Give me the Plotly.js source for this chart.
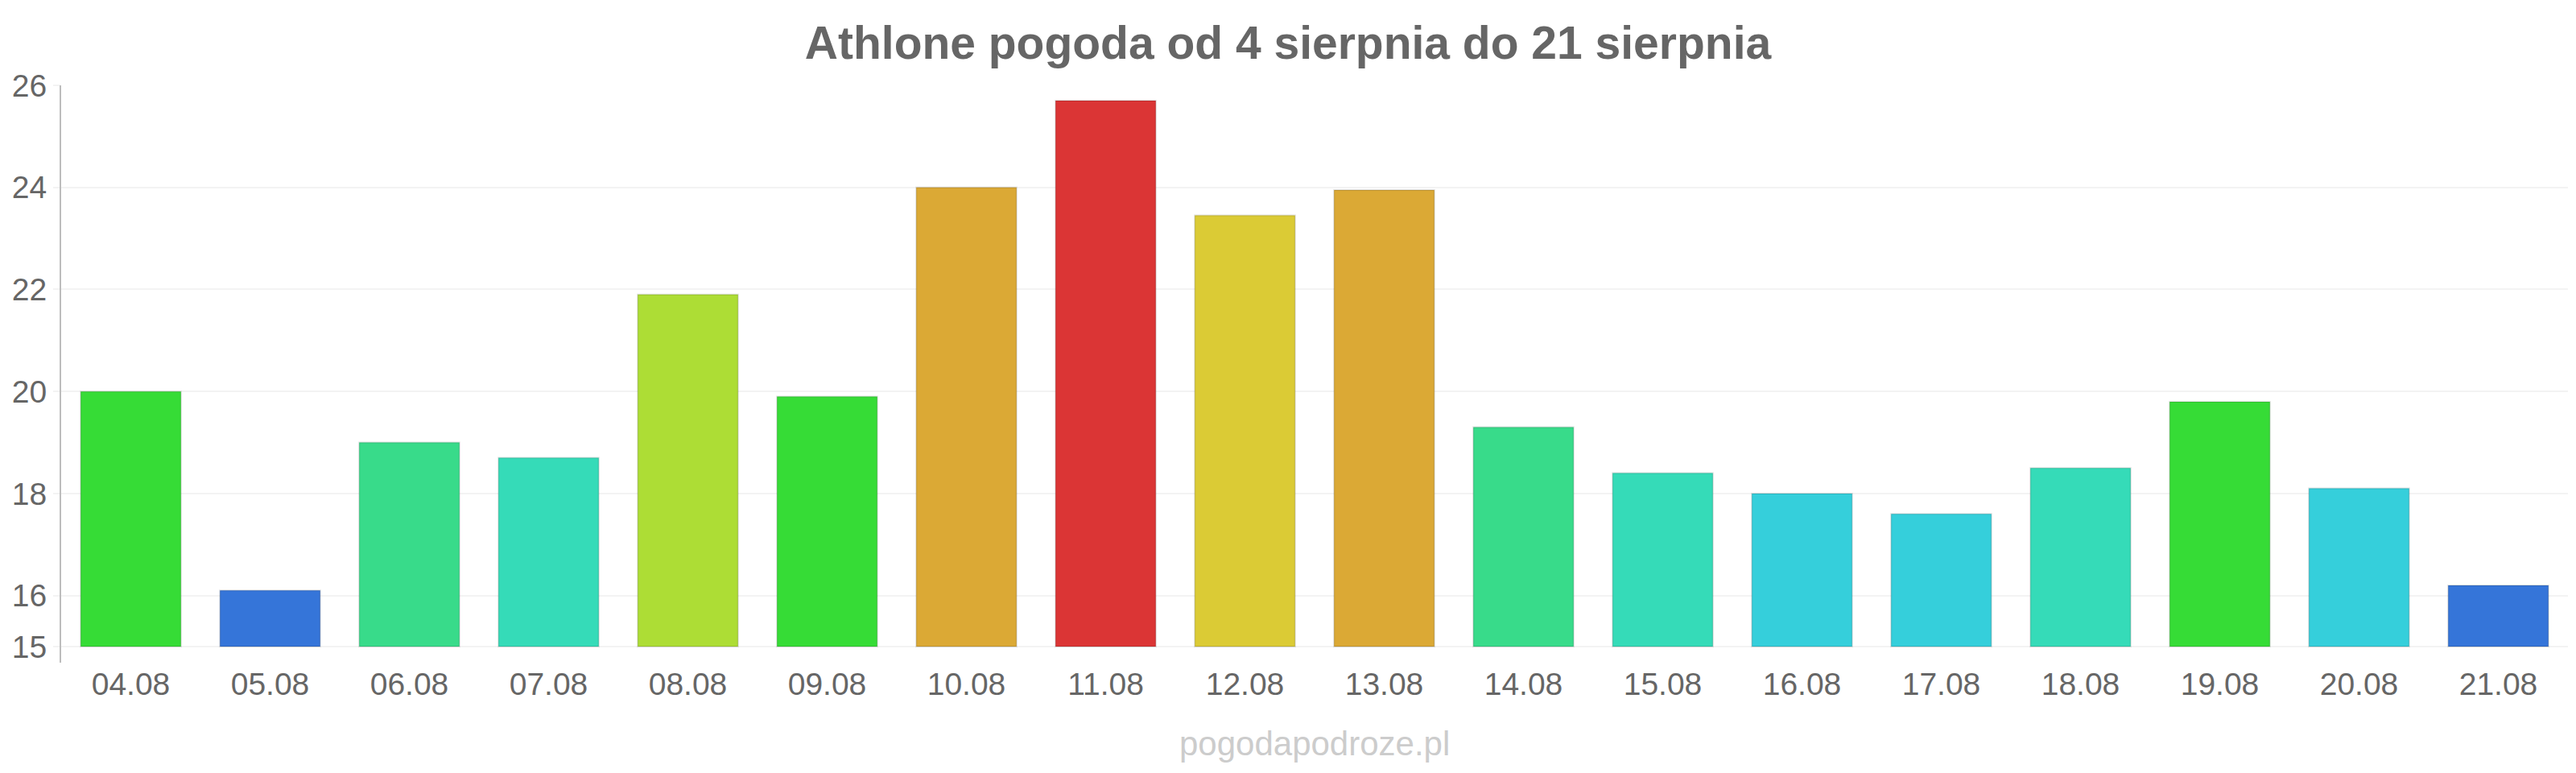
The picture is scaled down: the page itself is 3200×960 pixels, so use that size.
<!DOCTYPE html>
<html>
<head>
<meta charset="utf-8">
<script src="https://cdn.plot.ly/plotly-3.0.1.min.js"></script>
<style>
  html, body { margin: 0; padding: 0; background: #fff; }
  #chart { width: 3200px; height: 960px; }
</style>
</head>
<body>
<div id="chart"></div>
<script>
/******************** Data ********************/
const days = ["04.08", "05.08", "06.08", "07.08", "08.08", "09.08", "10.08", "11.08", "12.08",
              "13.08", "14.08", "15.08", "16.08", "17.08", "18.08", "19.08", "20.08", "21.08"];
const temps = [20.0, 16.1, 19.0, 18.7, 21.9, 19.9, 24.0, 25.7, 23.45,
               23.95, 19.3, 18.4, 18.0, 17.6, 18.5, 19.8, 18.1, 16.2];
const yTicks = [15, 16, 18, 20, 22, 24, 26];
const baseTemp = 15;

// one colour per bar
const barColors = ["#36dc36", "#3575d9", "#38db8a", "#35dbb8", "#addd35", "#36dc36", "#dba935", "#db3535", "#dbcb35",
                   "#dba935", "#38db8a", "#35dbb8", "#35cfdb", "#35cfdb", "#35dbb8", "#36dc36", "#35cfdb", "#3575d9"];

const fontFamily = "Liberation Sans, Arial, sans-serif";

/******************** Trace ********************/
const trace = {
  type: "bar",
  x: days,
  y: temps.map(t => t - baseTemp),   // bars start at 15
  base: baseTemp,
  marker: {
    color: barColors,
    line: { color: "rgba(0,0,0,0.12)", width: 2 }
  },
  hovertext: temps.map(t => t + " °C"),
  hoverinfo: "text"
};

/******************** Layout ********************/
const layout = {
  width: 3200,
  height: 960,
  margin: { l: 76, r: 10, t: 106, b: 137 },
  paper_bgcolor: "#ffffff",
  plot_bgcolor: "#ffffff",
  bargap: 0.28,
  showlegend: false,
  font: { family: fontFamily, color: "#666666", size: 39 },
  title: {
    text: "<b>Athlone pogoda od 4 sierpnia do 21 sierpnia</b>",
    font: { family: fontFamily, size: 57, color: "#666666" },
    xref: "container", x: 0.5, xanchor: "center",
    yref: "container", y: 0.945, yanchor: "middle"
  },
  xaxis: {
    type: "category",
    showgrid: false,
    showline: false,
    zeroline: false,
    ticks: "",
    tickfont: { size: 39, color: "#666666" }
  },
  yaxis: {
    range: [14.685, 26],
    tickmode: "array",
    tickvals: yTicks,
    ticktext: yTicks.map(String),
    showgrid: true,
    gridcolor: "#f3f3f3",
    gridwidth: 2,
    zeroline: false,
    showline: true,
    linecolor: "#bdbdbd",
    linewidth: 2,
    ticks: "outside",
    ticklen: 8,
    tickwidth: 2,
    tickcolor: "#f3f3f3",
    tickfont: { size: 39, color: "#666666" }
  },
  annotations: [{
    text: "pogodapodroze.pl",
    xref: "paper", yref: "paper",
    x: 0.5, y: -0.14,
    xanchor: "center", yanchor: "middle",
    showarrow: false,
    font: { family: fontFamily, size: 42, color: "#cccccc" }
  }]
};

const config = { staticPlot: true, displayModeBar: false };

Plotly.newPlot("chart", [trace], layout, config);
</script>
</body>
</html>
